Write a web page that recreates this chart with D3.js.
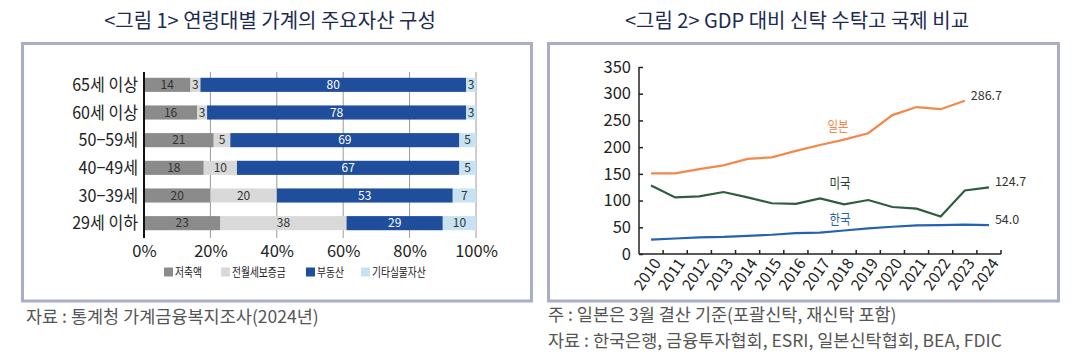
<!DOCTYPE html>
<html>
<head>
<meta charset="utf-8">
<script src="https://cdn.jsdelivr.net/npm/d3@7"></script>
<style>
  body { margin: 0; background: #fff; }
  svg { display: block; }
  .kr { font-family: "Noto Sans CJK KR", sans-serif; }
  .num { font-family: "Liberation Sans Narrow", "Noto Sans CJK KR", sans-serif; }
</style>
</head>
<body>
<svg id="chart" width="1079" height="364"></svg>
<script>
// figure 1: asset composition by age group (%)
var ageGroups = ['65세 이상', '60세 이상', '50-59세', '40-49세', '30-39세', '29세 이하'];
var assetTypes = ['저축액', '전월세보증금', '부동산', '기타실물자산'];
var savings =  [14, 16, 21, 18, 20, 23];
var deposits = [3, 3, 5, 10, 20, 38];
var realEstate = [80, 78, 69, 67, 53, 29];
var otherAssets = [3, 3, 5, 5, 7, 10];
var pctTicks = [0, 20, 40, 60, 80, 100];

// figure 2: trust assets vs GDP (%)
var years = [2010, 2011, 2012, 2013, 2014, 2015, 2016, 2017, 2018, 2019, 2020, 2021, 2022, 2023, 2024];
var japan = [151, 151, 159, 166, 178, 181, 193, 204, 214, 226, 260, 275, 271, 286.7, null];
var usa =   [128, 106, 108, 116, 106, 95, 94, 104, 93, 101, 88, 85, 70, 119, 124.7];
var korea = [27, 29, 31, 32, 34, 36, 39, 40, 44, 48, 51, 53.5, 54, 55, 54.0];
var gdpTicks = [0, 50, 100, 150, 200, 250, 300, 350];

var svg = d3.select('#chart');

var frameColor = '#aaadc9';
var titleColor = '#1c2b52';
var noteColor = '#555';

// frames and titles
[{ x: 22.5, w: 509, title: '<그림 1> 연령대별 가계의 주요자산 구성', cx: 270 },
 { x: 548.5, w: 510, title: '<그림 2> GDP 대비 신탁 수탁고 국제 비교', cx: 797 }].forEach(function (p) {
  svg.append('rect')
      .attr('x', p.x).attr('y', 43.5)
      .attr('width', p.w).attr('height', 257.5)
      .attr('fill', 'none')
      .attr('stroke', frameColor)
      .attr('stroke-width', 3);
  svg.append('text')
      .attr('class', 'kr')
      .attr('x', p.cx).attr('y', 28)
      .attr('text-anchor', 'middle')
      .attr('font-size', 20)
      .attr('fill', titleColor)
      .text(p.title);
});

// notes
var notes = [
  { x: 26, y: 323, t: '자료 : 통계청 가계금융복지조사(2024년)' },
  { x: 548, y: 321, t: '주 : 일본은 3월 결산 기준(포괄신탁, 재신탁 포함)' },
  { x: 548, y: 347, t: '자료 : 한국은행, 금융투자협회, ESRI, 일본신탁협회, BEA, FDIC' }
];
svg.selectAll('text.note')
    .data(notes)
    .enter()
  .append('text')
    .attr('class', 'note kr')
    .attr('x', function (d) { return d.x; })
    .attr('y', function (d) { return d.y; })
    .attr('font-size', 17.5)
    .attr('fill', noteColor)
    .text(function (d) { return d.t; });

drawBars();
drawLines();

function drawBars() {

  var colors = ['#8b8b8b', '#d9d9d9', '#1f4e9c', '#c7e3f3'];
  var labelColors = ['#333', '#333', '#fff', '#333'];

  var rows = ageGroups.map(function (g, i) {
    var vals = [savings[i], deposits[i], realEstate[i], otherAssets[i]];
    var acc = 0;
    return {
      group: g,
      parts: vals.map(function (v, k) {
        var p = { k: k, v: v, x0: acc, x1: acc + v };
        acc += v;
        return p;
      })
    };
  });

  var x = d3.scaleLinear().domain([0, 100]).range([144, 476]);
  var y = d3.scaleBand()
      .domain(ageGroups)
      .range([71, 237])
      .paddingInner(0.49)
      .paddingOuter(0.245);

  var g = svg.append('g');

  // grid
  g.selectAll('line.grid')
      .data(pctTicks.slice(1))
      .enter()
    .append('line')
      .attr('x1', function (d) { return x(d); })
      .attr('x2', function (d) { return x(d); })
      .attr('y1', 72).attr('y2', 238)
      .attr('stroke', '#9a9a9a')
      .attr('stroke-width', 1);

  var row = g.selectAll('g.row')
      .data(rows)
      .enter()
    .append('g')
      .attr('transform', function (d) { return 'translate(0,' + y(d.group) + ')'; });

  row.selectAll('rect')
      .data(function (d) { return d.parts; })
      .enter()
    .append('rect')
      .attr('x', function (d) { return x(d.x0); })
      .attr('width', function (d) { return x(d.x1) - x(d.x0); })
      .attr('height', y.bandwidth())
      .attr('fill', function (d) { return colors[d.k]; });

  row.selectAll('text')
      .data(function (d) { return d.parts; })
      .enter()
    .append('text')
      .attr('class', 'num')
      .attr('x', function (d) { return (x(d.x0) + x(d.x1)) / 2; })
      .attr('y', y.bandwidth() / 2)
      .attr('dy', '0.36em')
      .attr('text-anchor', 'middle')
      .attr('font-size', 12)
      .attr('fill', function (d) { return labelColors[d.k]; })
      .text(function (d) { return d.v; });

  // category labels
  g.selectAll('text.cat')
      .data(ageGroups)
      .enter()
    .append('text')
      .attr('class', 'cat num')
      .attr('transform', function (d) {
        return 'translate(138,' + (y(d) + y.bandwidth() / 2) + ') scale(0.92,1)';
      })
      .attr('dy', '0.36em')
      .attr('text-anchor', 'end')
      .attr('font-size', 17.5)
      .attr('fill', '#222')
      .text(function (d) { return d.replace('-', '−'); });

  // axis line
  g.append('line')
      .attr('x1', 144).attr('x2', 144)
      .attr('y1', 72).attr('y2', 238)
      .attr('stroke', '#111')
      .attr('stroke-width', 2);

  // tick labels
  var xAxis = d3.axisBottom(x)
      .tickValues(pctTicks)
      .tickFormat(function (d) { return d + '%'; })
      .tickSize(0)
      .tickPadding(0);

  var ax = g.append('g')
      .attr('transform', 'translate(0,245)')
      .call(xAxis);
  ax.select('.domain').remove();
  ax.selectAll('text')
      .attr('class', 'num')
      .attr('font-size', 16.5)
      .attr('fill', '#222');

  // legend
  var legendX = [164, 221, 306, 361];
  var lg = g.selectAll('g.legend')
      .data(assetTypes)
      .enter()
    .append('g')
      .attr('transform', function (d, i) { return 'translate(' + legendX[i] + ',272)'; });
  lg.append('rect')
      .attr('x', 0).attr('y', -4.5)
      .attr('width', 9).attr('height', 9)
      .attr('fill', function (d, i) { return colors[i]; });
  lg.append('text')
      .attr('class', 'kr')
      .attr('transform', 'translate(11,0) scale(0.78,1)')
      .attr('dy', '0.36em')
      .attr('font-size', 12.5)
      .attr('fill', '#222')
      .text(function (d) { return d; });
}

function drawLines() {

  var x = d3.scaleBand().domain(years).range([639, 1001]);
  var y = d3.scaleLinear().domain([0, 350]).range([254, 67]);
  var cx = function (d, i) { return x(years[i]) + x.bandwidth() / 2; };

  var g = svg.append('g');

  var series = [
    { name: '일본', values: japan, color: '#f4874b', label: { x: 838, y: 126 }, end: '286.7', endIdx: 13 },
    { name: '미국', values: usa, color: '#2f5c3f', label: { x: 840, y: 183 }, end: '124.7', endIdx: 14 },
    { name: '한국', values: korea, color: '#2662b2', label: { x: 840, y: 219 }, end: '54.0', endIdx: 14 }
  ];

  var line = d3.line()
      .defined(function (d) { return d != null; })
      .x(cx)
      .y(function (d) { return y(d); });

  g.selectAll('path.series')
      .data(series)
      .enter()
    .append('path')
      .attr('fill', 'none')
      .attr('stroke', function (d) { return d.color; })
      .attr('stroke-width', 2.2)
      .attr('d', function (d) { return line(d.values); });

  g.selectAll('text.sname')
      .data(series)
      .enter()
    .append('text')
      .attr('class', 'kr')
      .attr('transform', function (d) {
        return 'translate(' + d.label.x + ',' + d.label.y + ') scale(0.85,1)';
      })
      .attr('dy', '0.36em')
      .attr('text-anchor', 'middle')
      .attr('font-size', 13.5)
      .attr('fill', function (d) { return d.name === '미국' ? '#2a3a30' : d.color; })
      .text(function (d) { return d.name; });

  g.selectAll('text.endv')
      .data(series)
      .enter()
    .append('text')
      .attr('class', 'num')
      .attr('x', function (d) { return cx(null, d.endIdx) + 6; })
      .attr('y', function (d) { return y(d.values[d.endIdx]); })
      .attr('dy', '-0.1em')
      .attr('font-size', 12.5)
      .attr('fill', '#333')
      .text(function (d) { return d.end; });

  // y axis
  var yAxis = d3.axisRight(y)
      .tickValues(gdpTicks)
      .tickSize(4)
      .tickFormat(d3.format('d'));
  var ay = g.append('g')
      .attr('transform', 'translate(639,0)')
      .call(yAxis);
  ay.select('.domain')
      .attr('d', 'M0,' + y(350) + 'V' + y(0))
      .attr('stroke', '#222')
      .attr('stroke-width', 1.5);
  ay.selectAll('.tick line').attr('stroke', '#222').attr('stroke-width', 1.5);
  ay.selectAll('.tick text')
      .attr('class', 'num')
      .attr('x', -8)
      .attr('text-anchor', 'end')
      .attr('font-size', 16.5)
      .attr('fill', '#222');

  // x axis: ticks at band boundaries pointing up
  var boundaries = years.map(function (yr) { return x(yr) + x.bandwidth(); });
  var axg = g.append('g');
  axg.append('line')
      .attr('x1', 639).attr('x2', 1001)
      .attr('y1', y(0)).attr('y2', y(0))
      .attr('stroke', '#222')
      .attr('stroke-width', 1.5);
  axg.selectAll('line.tk')
      .data(boundaries)
      .enter()
    .append('line')
      .attr('x1', function (d) { return d; })
      .attr('x2', function (d) { return d; })
      .attr('y1', y(0)).attr('y2', y(0) - 4)
      .attr('stroke', '#222')
      .attr('stroke-width', 1.5);
  axg.selectAll('text')
      .data(years)
      .enter()
    .append('text')
      .attr('class', 'num')
      .attr('transform', function (d) {
        return 'translate(' + (x(d) + x.bandwidth() / 2 + 6) + ',' + (y(0) + 6) + ') rotate(-55)';
      })
      .attr('dy', '0.36em')
      .attr('text-anchor', 'end')
      .attr('font-size', 15.5)
      .attr('fill', '#222')
      .text(function (d) { return d; });
}
</script>
</body>
</html>
